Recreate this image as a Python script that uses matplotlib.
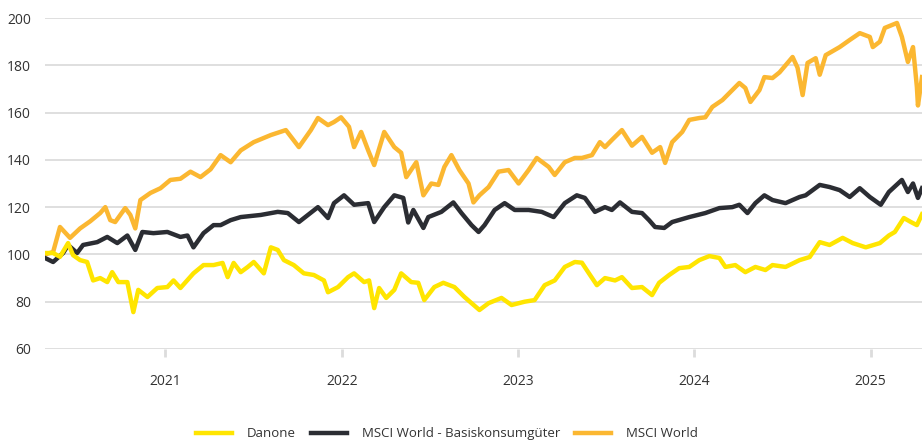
import matplotlib.pyplot as plt

# Indexed performance (start = 100), x in decimal years
world_t = [2020.317, 2020.363, 2020.402, 2020.459, 2020.516, 2020.573, 2020.630, 2020.659,
           2020.687, 2020.715, 2020.744, 2020.772, 2020.801, 2020.829, 2020.858, 2020.915,
           2020.972, 2021.028, 2021.085, 2021.142, 2021.199, 2021.256, 2021.313, 2021.370,
           2021.427, 2021.501, 2021.598, 2021.683, 2021.757, 2021.825, 2021.865, 2021.922,
           2021.956, 2021.996, 2022.041, 2022.070, 2022.110, 2022.150, 2022.184, 2022.241,
           2022.298, 2022.337, 2022.366, 2022.423, 2022.463, 2022.508, 2022.548, 2022.582,
           2022.622, 2022.667, 2022.719, 2022.747, 2022.781, 2022.833, 2022.889, 2022.946,
           2023.003, 2023.060, 2023.106, 2023.174, 2023.208, 2023.265, 2023.322, 2023.362,
           2023.419, 2023.464, 2023.493, 2023.532, 2023.589, 2023.646, 2023.703, 2023.760,
           2023.806, 2023.834, 2023.874, 2023.931, 2023.971, 2024.028, 2024.062, 2024.102,
           2024.159, 2024.215, 2024.255, 2024.289, 2024.318, 2024.369, 2024.397, 2024.443,
           2024.483, 2024.540, 2024.557, 2024.585, 2024.614, 2024.642, 2024.688, 2024.711,
           2024.745, 2024.824, 2024.881, 2024.938, 2024.995, 2025.012, 2025.052, 2025.080,
           2025.149, 2025.177, 2025.211, 2025.240, 2025.262, 2025.268, 2025.291]
world_v = [100, 101, 111.6, 107, 111, 114, 117.5, 120,
           114.5, 113.7, 116.7, 119.6, 116.7, 111, 123, 126,
           128, 131.5, 132, 135, 132.7, 136, 142, 139,
           144, 147.5, 150.5, 152.6, 145.4, 152.6, 157.7, 154.7,
           156, 158, 154, 145.4, 151.8, 144, 137.8, 151.8,
           145.4, 143, 132.7, 139, 125, 130, 129.4, 137,
           142, 135.7, 130, 122, 125, 128.5, 135, 135.7,
           130, 135.7, 140.8, 137, 133.6, 139, 140.8, 140.8,
           142, 147.5, 145.4, 148.4, 152.6, 146, 149.7, 143,
           145.4, 138.7, 147.5, 151.8, 156.9, 157.7, 158, 162.4,
           165.3, 169.5, 172.5, 170.4, 164.5, 169.5, 175, 174.6,
           177, 182, 183.5, 179, 167.4, 181, 183, 176,
           184.3, 187.7, 190.7, 193.6, 192, 187.7, 190, 195.8,
           197.9, 192, 181.4, 187.7, 170.8, 163, 175]

staples_t = [2020.317, 2020.363, 2020.420, 2020.448, 2020.499, 2020.533, 2020.613, 2020.670,
             2020.727, 2020.784, 2020.829, 2020.869, 2020.932, 2021.011, 2021.085, 2021.125,
             2021.159, 2021.216, 2021.273, 2021.313, 2021.370, 2021.427, 2021.541, 2021.637,
             2021.694, 2021.757, 2021.865, 2021.922, 2021.956, 2022.013, 2022.070, 2022.150,
             2022.184, 2022.241, 2022.298, 2022.349, 2022.377, 2022.406, 2022.463, 2022.491,
             2022.565, 2022.633, 2022.679, 2022.736, 2022.776, 2022.810, 2022.867, 2022.924,
             2022.981, 2023.060, 2023.134, 2023.202, 2023.265, 2023.333, 2023.379, 2023.436,
             2023.493, 2023.532, 2023.578, 2023.646, 2023.703, 2023.743, 2023.777, 2023.829,
             2023.874, 2023.971, 2024.062, 2024.142, 2024.215, 2024.255, 2024.301, 2024.346,
             2024.397, 2024.443, 2024.517, 2024.597, 2024.631, 2024.711, 2024.767, 2024.824,
             2024.881, 2024.938, 2024.995, 2025.057, 2025.103, 2025.177, 2025.211, 2025.240,
             2025.268, 2025.291]
staples_v = [98.5, 96.8, 100.6, 104, 100.6, 104, 105.2, 107.4,
             104.8, 108, 101.9, 109.5, 109, 109.5, 107.4, 108,
             103, 109, 112.4, 112.4, 114.5, 115.8, 116.7, 118,
             117.5, 113.7, 120, 115.4, 121.7, 125, 121, 121.7,
             113.7, 120, 125, 123.9, 113.5, 118.8, 111.2, 115.8,
             118, 122, 117.5, 112.4, 109.5, 112.4, 118.8, 121.7,
             118.8, 118.8, 118, 115.8, 121.7, 125, 123.9, 118,
             120, 118.8, 122, 118, 117.5, 114.5, 111.6, 111.2,
             113.7, 115.8, 117.5, 119.6, 120, 121, 117.5, 121.7,
             125, 123, 121.7, 124.3, 125, 129.4, 128.5, 127.2,
             124.3, 128, 124.3, 121, 126.4, 131.5, 126.4, 130,
             123.9, 128]

danone_t = [2020.317, 2020.363, 2020.402, 2020.448, 2020.476, 2020.516, 2020.556, 2020.590,
            2020.630, 2020.670, 2020.698, 2020.733, 2020.784, 2020.818, 2020.846, 2020.898,
            2020.954, 2021.011, 2021.046, 2021.085, 2021.159, 2021.216, 2021.273, 2021.324,
            2021.353, 2021.387, 2021.427, 2021.467, 2021.501, 2021.558, 2021.598, 2021.637,
            2021.672, 2021.728, 2021.785, 2021.842, 2021.899, 2021.922, 2021.979, 2022.036,
            2022.070, 2022.127, 2022.155, 2022.184, 2022.212, 2022.252, 2022.298, 2022.337,
            2022.394, 2022.434, 2022.468, 2022.525, 2022.576, 2022.639, 2022.696, 2022.736,
            2022.781, 2022.833, 2022.906, 2022.963, 2023.037, 2023.094, 2023.151, 2023.208,
            2023.265, 2023.322, 2023.362, 2023.402, 2023.447, 2023.493, 2023.550, 2023.589,
            2023.646, 2023.703, 2023.760, 2023.800, 2023.857, 2023.914, 2023.971, 2024.028,
            2024.085, 2024.142, 2024.176, 2024.232, 2024.289, 2024.346, 2024.403, 2024.443,
            2024.517, 2024.597, 2024.654, 2024.711, 2024.767, 2024.841, 2024.898, 2024.972,
            2025.052, 2025.103, 2025.137, 2025.188, 2025.228, 2025.262, 2025.291]
danone_v = [100.6, 100.6, 99, 104.8, 99.7, 97.6, 96.8, 89,
            90, 88.3, 92.5, 88.3, 88.3, 75.6, 85, 82,
            85.8, 86.2, 89, 85.8, 92, 95.5, 95.5, 96.4,
            90.4, 96.4, 92.5, 94.7, 96.8, 92, 103, 101.9,
            97.6, 95.5, 92, 91.3, 89, 84, 86.2, 90.4,
            92, 88.3, 89, 77.3, 85.8, 81.6, 85, 92,
            88.3, 88, 80.7, 86.2, 88, 86.2, 82, 79.4,
            76.5, 79.4, 81.6, 78.6, 80, 80.7, 87, 89,
            94.7, 96.8, 96.5, 92, 87, 90, 89, 90.4,
            85.8, 86.2, 82.8, 88, 91.3, 94.2, 94.7, 97.6,
            99.3, 98.5, 94.7, 95.5, 92.5, 94.7, 93.4, 95.5,
            94.7, 97.6, 98.9, 105.2, 104, 107, 104.8, 103,
            104.8, 108, 109.5, 115.4, 113.7, 112.4, 117]

years = [2021, 2022, 2023, 2024, 2025]
yticks = [60, 80, 100, 120, 140, 160, 180, 200]

plt.rcParams['font.family'] = ['Open Sans', 'DejaVu Sans']

fig = plt.figure(figsize=(9.22, 4.41), dpi=100)
ax = fig.add_axes([45 / 922, 92 / 441, 877 / 922, 331 / 441])

ax.plot(world_t, world_v, color='#FBB731', lw=3.2, label='MSCI World', zorder=3)
ax.plot(staples_t, staples_v, color='#2B2D33', lw=3.2, label='MSCI World - Basiskonsumgüter', zorder=4)
ax.plot(danone_t, danone_v, color='#FFE500', lw=3.2, label='Danone', zorder=5)

ax.set_xlim(2020.317, 2025.291)
ax.set_ylim(60, 200)
ax.set_yticks(yticks)
ax.set_xticks(years)
ax.set_xticklabels([str(y) for y in years])
ax.grid(axis='y', color='#DCDCDC', lw=1.3)
ax.set_axisbelow(True)
for s in ax.spines.values():
    s.set_visible(False)
ax.tick_params(axis='y', length=0, pad=10, labelsize=10, labelcolor='#333333')
ax.tick_params(axis='x', length=6, width=2, color='#DCDCDC', pad=12, labelsize=10,
               labelcolor='#333333')

handles, labels = ax.get_legend_handles_labels()
order = [2, 1, 0]
leg = fig.legend([handles[i] for i in order], [labels[i] for i in order],
                 loc='lower center', bbox_to_anchor=(0.485, -0.025), ncol=3, frameon=False,
                 fontsize=9.5, handlelength=2.7, handletextpad=1.15, columnspacing=1.15)
for t in leg.get_texts():
    t.set_color('#333333')

fig.savefig('out.png', dpi=100)
